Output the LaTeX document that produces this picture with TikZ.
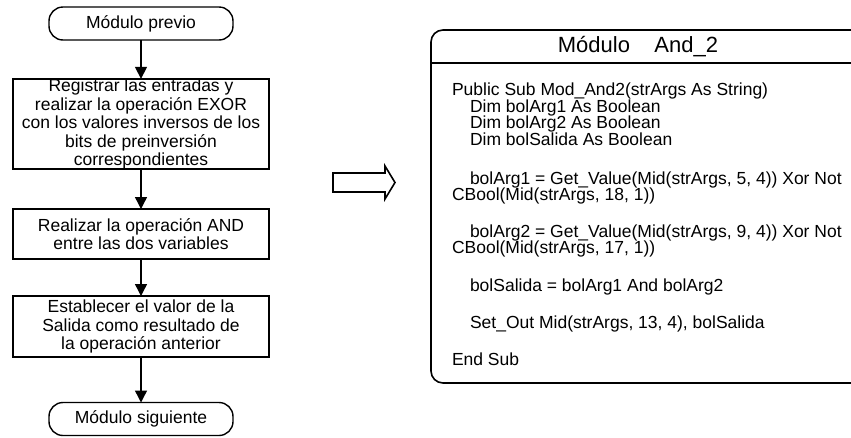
\documentclass[tikz,border=0pt]{standalone}
\usepackage{fontspec}
\setmainfont{Liberation Sans}
\usetikzlibrary{arrows.meta}

\begin{document}
\begin{tikzpicture}[x=1pt,y=-1pt,
  every node/.style={inner sep=0pt, outer sep=0pt},
  terminal/.style={draw, line width=1.4pt, rounded corners=14pt,
    minimum width=184pt, minimum height=33pt,
    font=\fontsize{17.5}{18.5}\selectfont},
  procbox/.style={draw, line width=1.4pt, minimum width=256pt, align=center,
    font=\fontsize{17.5}{18.5}\selectfont},
  flow/.style={line width=1.4pt, -{Triangle[width=12pt,length=12pt]}},
  codeline/.style={anchor=base west, font=\fontsize{17.5}{16.5}\selectfont},
  frame/.style={line width=1.6pt},
]
\useasboundingbox (0,0) rectangle (851,437);

% flowchart of the module
\node[terminal] (prev) at (141,23.5) {Módulo previo};
\node[procbox, minimum height=87pt] (reg) at (141,124)
  {Registrar las entradas y\\realizar la operación EXOR\\con los valores inversos de los\\bits de preinversión\\correspondientes};
\node[procbox, minimum height=50pt] (and) at (141,234)
  {Realizar la operación AND\\entre las dos variables};
\node[procbox, minimum height=61pt] (out) at (141,326.5)
  {Establecer el valor de la\\Salida como resultado de\\la operación anterior};
\node[terminal, minimum height=33pt] (next) at (141,419) {Módulo siguiente};

\draw[flow] (prev) -- (reg);
\draw[flow] (reg) -- (and);
\draw[flow] (and) -- (out);
\draw[flow] (out) -- (next);

% hollow arrow towards the code listing
\draw[frame, line join=miter] (333,173) -- (385,173) -- (385,166) -- (395,182.5)
  -- (385,199) -- (385,192) -- (333,192) -- cycle;

% code listing frame, open to the right
\begin{scope}
  \clip (0,0) rectangle (851,437);
  \draw[frame, rounded corners=12pt] (870,30) -- (431,30) -- (431,383) -- (870,383);
  \draw[frame] (431,63) -- (870,63);
\end{scope}

\node[font=\fontsize{22}{24}\selectfont] (title) at (638,47) {Módulo~~~~And\_2};

\node[codeline] (c1) at (452,95) {Public Sub Mod\_And2(strArgs As String)};
\node[codeline] (c2) at (470,112) {Dim bolArg1 As Boolean};
\node[codeline] (c3) at (470,128.5) {Dim bolArg2 As Boolean};
\node[codeline] (c4) at (470,145) {Dim bolSalida As Boolean};
\node[codeline] (c5) at (470,184) {bolArg1 = Get\_Value(Mid(strArgs, 5, 4)) Xor Not};
\node[codeline] (c6) at (452,200.5) {CBool(Mid(strArgs, 18, 1))};
\node[codeline] (c7) at (470,237) {bolArg2 = Get\_Value(Mid(strArgs, 9, 4)) Xor Not};
\node[codeline] (c8) at (452,253.5) {CBool(Mid(strArgs, 17, 1))};
\node[codeline] (c9) at (470,291) {bolSalida = bolArg1 And bolArg2};
\node[codeline] (c10) at (470,328) {Set\_Out Mid(strArgs, 13, 4), bolSalida};
\node[codeline] (c11) at (452,365) {End Sub};
\end{tikzpicture}
\end{document}
